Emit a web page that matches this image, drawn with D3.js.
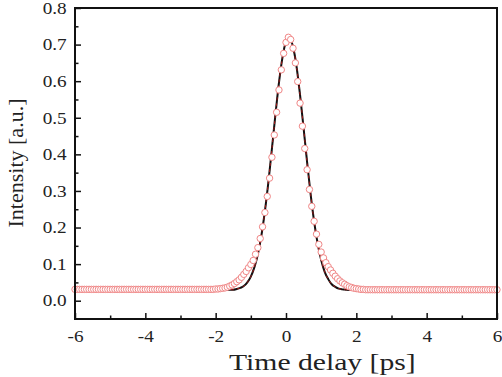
<!DOCTYPE html>
<html>
<head>
<meta charset="utf-8">
<script src="https://d3js.org/d3.v7.min.js"></script>
<style>
    body { margin: 0; background: #fff; }
    svg text { font-family: "Liberation Serif", "Times New Roman", serif; fill: #222; }
</style>
</head>
<body>
<div id="chart"></div>
<script>
// measured points: time delay [ps]
let delays = [
    -6, -5.933, -5.867, -5.8, -5.733, -5.667, -5.6, -5.533, -5.467, -5.4, -5.333, -5.267, -5.2, -5.133, -5.067,
    -5, -4.933, -4.867, -4.8, -4.733, -4.667, -4.6, -4.533, -4.467, -4.4, -4.333, -4.267, -4.2, -4.133, -4.067,
    -4, -3.933, -3.867, -3.8, -3.733, -3.667, -3.6, -3.533, -3.467, -3.4, -3.333, -3.267, -3.2, -3.133, -3.067,
    -3, -2.933, -2.867, -2.8, -2.733, -2.667, -2.6, -2.533, -2.467, -2.4, -2.333, -2.267, -2.2, -2.133, -2.067,
    -2, -1.933, -1.867, -1.8, -1.733, -1.667, -1.6, -1.533, -1.467, -1.4, -1.333, -1.267, -1.2, -1.133, -1.067,
    -1, -0.933, -0.867, -0.8, -0.733, -0.667, -0.6, -0.533, -0.467, -0.4, -0.333, -0.267, -0.2, -0.133, -0.067,
    0, 0.067, 0.133, 0.2, 0.267, 0.333, 0.4, 0.467, 0.533, 0.6, 0.667, 0.733, 0.8, 0.867, 0.933,
    1, 1.067, 1.133, 1.2, 1.267, 1.333, 1.4, 1.467, 1.533, 1.6, 1.667, 1.733, 1.8, 1.867, 1.933,
    2, 2.067, 2.133, 2.2, 2.267, 2.333, 2.4, 2.467, 2.533, 2.6, 2.667, 2.733, 2.8, 2.867, 2.933,
    3, 3.067, 3.133, 3.2, 3.267, 3.333, 3.4, 3.467, 3.533, 3.6, 3.667, 3.733, 3.8, 3.867, 3.933,
    4, 4.067, 4.133, 4.2, 4.267, 4.333, 4.4, 4.467, 4.533, 4.6, 4.667, 4.733, 4.8, 4.867, 4.933,
    5, 5.067, 5.133, 5.2, 5.267, 5.333, 5.4, 5.467, 5.533, 5.6, 5.667, 5.733, 5.8, 5.867, 5.933,
    6
];

// measured intensity [a.u.]
let intensity = [
    0.031, 0.031, 0.031, 0.031, 0.031, 0.031, 0.031, 0.031, 0.031, 0.031, 0.031, 0.031, 0.031, 0.031, 0.031,
    0.031, 0.031, 0.031, 0.031, 0.031, 0.031, 0.031, 0.031, 0.031, 0.031, 0.031, 0.031, 0.031, 0.031, 0.031,
    0.031, 0.031, 0.031, 0.031, 0.031, 0.031, 0.031, 0.031, 0.031, 0.031, 0.031, 0.031, 0.031, 0.031, 0.031,
    0.031, 0.031, 0.031, 0.031, 0.031, 0.031, 0.031, 0.031, 0.031, 0.031, 0.031, 0.031, 0.031, 0.031, 0.031,
    0.032, 0.032, 0.033, 0.034, 0.035, 0.037, 0.040, 0.043, 0.047, 0.052, 0.057, 0.064, 0.072, 0.080, 0.090,
    0.099, 0.110, 0.127, 0.145, 0.170, 0.202, 0.241, 0.285, 0.335, 0.392, 0.453, 0.515, 0.576, 0.631, 0.676,
    0.706, 0.720, 0.714, 0.690, 0.650, 0.599, 0.540, 0.477, 0.416, 0.358, 0.304, 0.258, 0.217, 0.182, 0.154,
    0.133, 0.117, 0.104, 0.093, 0.084, 0.075, 0.067, 0.060, 0.054, 0.049, 0.045, 0.041, 0.038, 0.036, 0.034,
    0.033, 0.032, 0.031, 0.031, 0.030, 0.030, 0.030, 0.030, 0.030, 0.030, 0.030, 0.030, 0.030, 0.030, 0.030,
    0.030, 0.030, 0.030, 0.030, 0.030, 0.030, 0.030, 0.030, 0.030, 0.030, 0.030, 0.030, 0.030, 0.030, 0.030,
    0.030, 0.030, 0.030, 0.030, 0.030, 0.030, 0.030, 0.030, 0.030, 0.030, 0.030, 0.030, 0.030, 0.030, 0.030,
    0.030, 0.030, 0.030, 0.030, 0.030, 0.030, 0.030, 0.030, 0.030, 0.030, 0.030, 0.030, 0.030, 0.030, 0.030,
    0.030
];

// fitted curve
let fitDelays = [-6, -2.0, -1.9, -1.8, -1.7, -1.6, -1.5, -1.4, -1.3, -1.2, -1.1, -1.0, -0.9, -0.8, -0.7, -0.6,
    -0.5, -0.4, -0.3, -0.2, -0.1, 0.0, 0.1, 0.2, 0.3, 0.4, 0.5, 0.6, 0.7, 0.8, 0.9, 1.0, 1.1, 1.2, 1.3, 1.4,
    1.5, 1.6, 1.7, 1.8, 1.9, 2.0, 2.1, 2.2, 6];
let fitValues = [0.029, 0.029, 0.029, 0.029, 0.029, 0.030, 0.030, 0.032, 0.035, 0.040, 0.050, 0.066, 0.091,
    0.127, 0.178, 0.245, 0.325, 0.416, 0.509, 0.596, 0.665, 0.708, 0.718, 0.694, 0.640, 0.562, 0.472, 0.379,
    0.291, 0.216, 0.156, 0.111, 0.079, 0.059, 0.045, 0.038, 0.033, 0.031, 0.030, 0.029, 0.029, 0.029, 0.029,
    0.029, 0.029];

// axis ticks
let xTicks = [-6, -4, -2, 0, 2, 4, 6];
let xMinorTicks = [-5, -3, -1, 1, 3, 5];
let yTicks = [0.0, 0.1, 0.2, 0.3, 0.4, 0.5, 0.6, 0.7, 0.8];
let yMinorTicks = [0.05, 0.15, 0.25, 0.35, 0.45, 0.55, 0.65, 0.75];

let width = 502;
let height = 377;
let margin = {left: 75, right: 5, top: 8, bottom: 58};
let innerW = width - margin.left - margin.right;
let innerH = height - margin.top - margin.bottom;

let svg = d3.select("#chart")
    .append("svg")
    .attr("width", width)
    .attr("height", height);

let g = svg.append("g")
    .attr("transform", "translate(" + margin.left + "," + margin.top + ")");

let xScale = d3.scaleLinear().domain([-6, 6]).range([0, innerW]);
let yScale = d3.scaleLinear().domain([-0.05, 0.8]).range([innerH, 0]);

// fit line: black with a dark red dash on top
let fitPoints = fitDelays.map((d, i) => [d, fitValues[i]]);
let line = d3.line()
    .x(d => xScale(d[0]))
    .y(d => yScale(d[1]))
    .curve(d3.curveMonotoneX);

g.append("path")
    .datum(fitPoints)
    .attr("d", line)
    .attr("fill", "none")
    .attr("stroke", "#111")
    .attr("stroke-width", 2);

g.append("path")
    .datum(fitPoints)
    .attr("d", line)
    .attr("fill", "none")
    .attr("stroke", "#a01818")
    .attr("stroke-width", 1)
    .attr("stroke-dasharray", "3,3");

// measured points
g.selectAll(".pt")
    .data(delays)
    .enter()
    .append("circle")
    .attr("class", "pt")
    .attr("cx", d => xScale(d))
    .attr("cy", (d, i) => yScale(intensity[i]))
    .attr("r", 3.2)
    .attr("fill", "#fff")
    .attr("stroke", "#f08686")
    .attr("stroke-width", 1);

// axes, ticks pointing inward
let xAxis = g.append("g")
    .attr("transform", "translate(0," + innerH + ")")
    .call(d3.axisBottom(xScale).tickValues(xTicks).tickSize(-6).tickPadding(12).tickFormat(d => String(d)));
let xMinor = g.append("g")
    .attr("transform", "translate(0," + innerH + ")")
    .call(d3.axisBottom(xScale).tickValues(xMinorTicks).tickSize(-3.5).tickFormat(""));

let yAxis = g.append("g")
    .call(d3.axisLeft(yScale).tickValues(yTicks).tickSize(-6).tickPadding(7).tickFormat(d3.format(".1f")));
let yMinor = g.append("g")
    .call(d3.axisLeft(yScale).tickValues(yMinorTicks).tickSize(-3.5).tickFormat(""));

[xAxis, xMinor, yAxis, yMinor].forEach(a => {
    a.select(".domain").remove();
    a.selectAll("line").attr("stroke", "#111").attr("stroke-width", 1.5);
});

xAxis.selectAll("text")
    .attr("font-size", 16)
    .attr("transform", "scale(1.2,1)");
yAxis.selectAll("text")
    .attr("font-size", 16)
    .attr("dy", "0.33em")
    .attr("transform", "scale(1.2,1)");

// frame
g.append("rect")
    .attr("x", 0)
    .attr("y", 0)
    .attr("width", innerW)
    .attr("height", innerH)
    .attr("fill", "none")
    .attr("stroke", "#111")
    .attr("stroke-width", 2);

// axis titles
svg.append("text")
    .attr("transform", "translate(229,370) scale(1.29,1)")
    .attr("text-anchor", "start")
    .attr("font-size", 23)
    .text("Time delay [ps]");

svg.append("text")
    .attr("transform", "translate(23,163) rotate(-90)")
    .attr("text-anchor", "middle")
    .attr("font-size", 22)
    .text("Intensity [a.u.]");
</script>
</body>
</html>
